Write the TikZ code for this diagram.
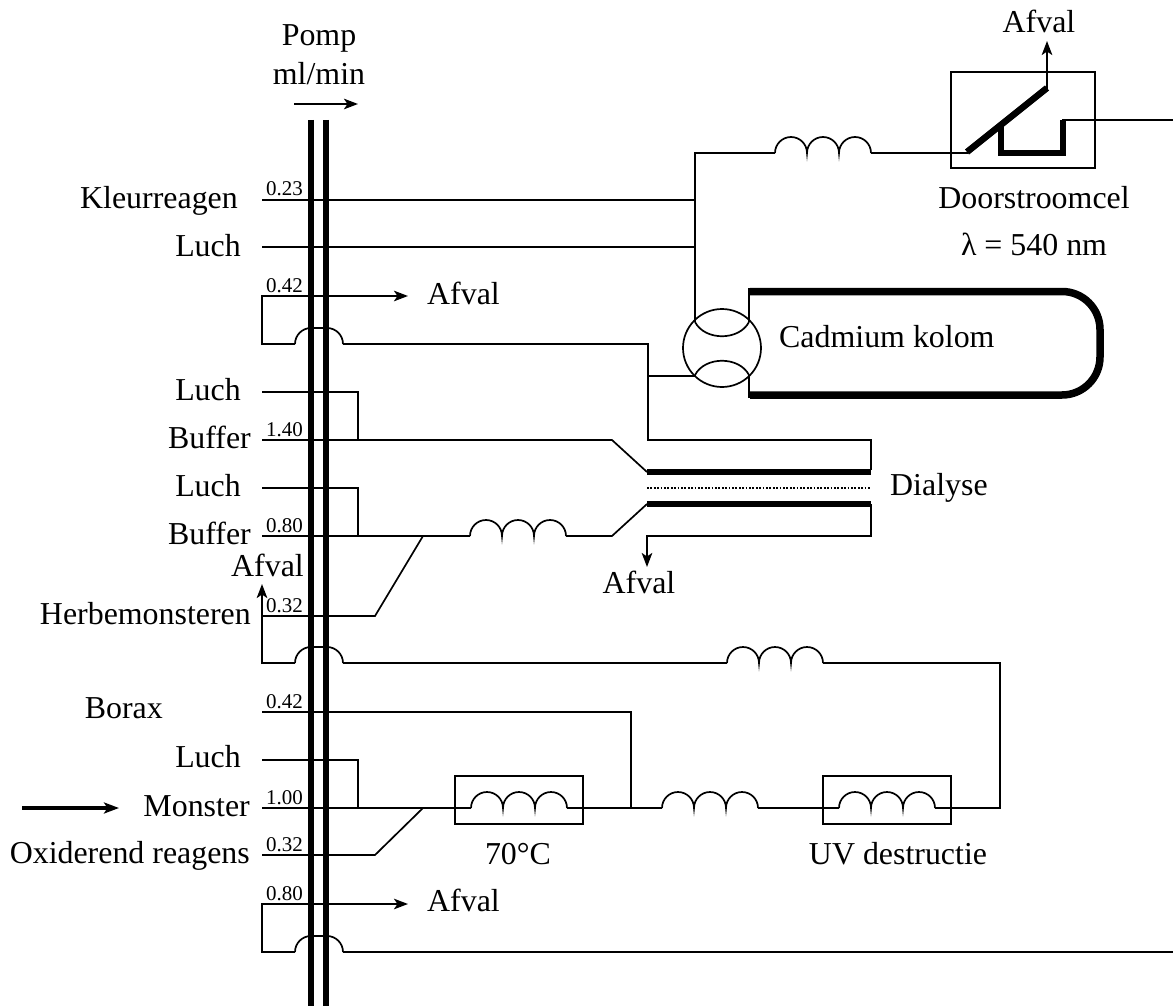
\documentclass[tikz,border=0pt]{standalone}
\usepackage{fontspec}
\setmainfont{Liberation Serif}
\usetikzlibrary{arrows.meta}
\tikzset{
  thinline/.style={line width=1.7pt,line join=miter},
  heavy/.style={line width=6.5pt},
  tube/.style={line width=6pt},
  flow/.style={line width=2.2pt,-{Stealth[length=14pt,width=10.5pt,inset=3.5pt]}},
  bigflow/.style={line width=3.2pt,-{Stealth[length=15pt,width=11pt,inset=3.5pt]}},
  lab/.style={font=\fontsize{31.9pt}{34pt}\selectfont,inner sep=0pt,anchor=base},
  rate/.style={font=\fontsize{21pt}{24pt}\selectfont,inner sep=0pt,anchor=base west},
  box/.style={line width=1.7pt}
}
\newcommand{\coil}[2]{% left x, y : three bumps
  \draw[thinline] (#1,#2) arc[start angle=180,end angle=360,radius=16]
    arc[start angle=180,end angle=360,radius=16]
    arc[start angle=180,end angle=360,radius=16];}
\newcommand{\hop}[1]{% bump over the pump tubes at y
  \draw[thinline] (295,#1) arc[start angle=180,end angle=270,radius=16]
   -- ++(16,0) arc[start angle=270,end angle=360,radius=16];}
\begin{document}
\begin{tikzpicture}[x=1pt,y=-1pt]
\useasboundingbox (0,0) rectangle (1173,1006);
% pump tubes
\draw[tube] (311,120) -- (311,1006);
\draw[tube] (326,120) -- (326,1006);
\draw[flow] (294,104) -- (358,104);
% top connections
\draw[thinline] (262,200) -- (695,200);
\draw[thinline] (262,247) -- (695,247);
\draw[thinline] (695,322) -- (695,153) -- (775,153);
\coil{775}{153}
\draw[thinline] (871,153) -- (968,153);
% waste loop 0.42
\draw[flow] (262,296) -- (408,296);
\draw[thinline] (262,295) -- (262,344) -- (295,344);
\hop{344}
\draw[thinline] (343,344) -- (648,344) -- (648,440) -- (871,440) -- (871,470);
\draw[thinline] (648,376) -- (696,376);
% valve
\draw[thinline] (722,348) circle[radius=39];
\draw[thinline] (695,322) .. controls (705,341) and (739,341) .. (749,322);
\draw[thinline] (695,375) .. controls (705,356) and (739,356) .. (749,375);
\draw[thinline] (749,322) -- (749,288);
\draw[thinline] (749,375) -- (749,398);
\draw[line width=7.5pt] (750,291.5) -- (1062,291.5) arc[start angle=270,end angle=360,radius=38]
  -- (1100,357) arc[start angle=0,end angle=90,radius=38] -- (750,395);
% dialysis
\draw[heavy] (647,472) -- (871,472);
\draw[heavy] (647,504) -- (871,504);
\draw[line width=1.6pt,dash pattern=on 1.7pt off 1.7pt] (647,488) -- (871,488);
% buffer lines
\draw[thinline] (262,392) -- (358,392) -- (358,440);
\draw[thinline] (262,440) -- (612,440) -- (647,472);
\draw[thinline] (262,488) -- (358,488) -- (358,536);
\draw[thinline] (262,536) -- (470,536);
\coil{470}{536}
\draw[thinline] (566,536) -- (612,536) -- (647,504);
\draw[thinline] (262,616) -- (375,616) -- (423,536);
\draw[thinline] (871,504) -- (871,536) -- (647,536);
\draw[flow] (647,535) -- (647,567);
% second loop
\draw[flow] (262,664) -- (262,584);
\draw[thinline] (262,663) -- (295,663);
\hop{663}
\draw[thinline] (343,663) -- (727,663);
\coil{727}{663}
\draw[thinline] (823,663) -- (1000,663) -- (1000,808) -- (951,808);
% lower lines
\draw[thinline] (262,712) -- (631,712) -- (631,808);
\draw[thinline] (262,760) -- (358,760) -- (358,808);
\draw[thinline] (262,808) -- (471,808);
\coil{471}{808}
\draw[thinline] (567,808) -- (662,808);
\coil{662}{808}
\draw[thinline] (758,808) -- (839,808);
\coil{839}{808}
\draw[thinline] (935,808) -- (951,808);
\draw[box] (455,776) rectangle (583,824);
\draw[box] (823,776) rectangle (951,824);
\draw[thinline] (262,855) -- (375,855) -- (423,808);
\draw[bigflow] (22,808) -- (119,808);
% bottom loop
\draw[flow] (262,904) -- (408,904);
\draw[thinline] (262,903) -- (262,952) -- (295,952);
\hop{952}
\draw[thinline] (343,952) -- (1173,952);
% flow cell
\draw[box] (951,72) rectangle (1095,168);
\draw[heavy] (967,152) -- (1047,88);
\draw[heavy] (1001,127) -- (1001,153) -- (1063,153) -- (1063,120);
\draw[thinline] (1062,120) -- (1173,120);
\draw[flow] (1047,89) -- (1047,41);
% labels
\node[lab] (pomp) at (319,46) {Pomp};
\node[lab] (mlmin) at (319,85) {ml/min};
\node[lab] (af1) at (1039,33) {Afval};
\node[lab] (cel) at (1034,208) {Doorstroomcel};
\node[lab] (lam) at (1034,255) {λ = 540 nm};
\node[lab,anchor=base east] (kl) at (238,208) {Kleurreagen};
\node[lab,anchor=base east] (l1) at (241,256) {Luch};
\node[lab,anchor=base west] (af2) at (427,304) {Afval};
\node[lab,anchor=base west] (cd) at (779,347) {Cadmium kolom};
\node[lab,anchor=base east] (l2) at (241,400) {Luch};
\node[lab,anchor=base east] (b1) at (251,448) {Buffer};
\node[lab,anchor=base east] (l3) at (241,496) {Luch};
\node[lab,anchor=base west] (dia) at (890,495) {Dialyse};
\node[lab,anchor=base east] (b2) at (251,544) {Buffer};
\node[lab,anchor=base east] (af3) at (304,576) {Afval};
\node[lab] (af4) at (639,593) {Afval};
\node[lab,anchor=base east] (hb) at (251,624) {Herbemonsteren};
\node[lab,anchor=base east] (bo) at (163,718) {Borax};
\node[lab,anchor=base east] (l4) at (241,767) {Luch};
\node[lab,anchor=base east] (mo) at (250,816) {Monster};
\node[lab,anchor=base east] (ox) at (250,863) {Oxiderend reagens};
\node[lab] (t70) at (518,864) {70°C};
\node[lab] (uv) at (898,864) {UV destructie};
\node[lab,anchor=base west] (af5) at (427,911) {Afval};
% rates
\node[rate] (r1) at (266,196) {0.23};
\node[rate] (r2) at (266,292) {0.42};
\node[rate] (r3) at (266,436) {1.40};
\node[rate] (r4) at (266,532) {0.80};
\node[rate] (r5) at (266,612) {0.32};
\node[rate] (r6) at (266,708) {0.42};
\node[rate] (r7) at (266,804) {1.00};
\node[rate] (r8) at (266,851) {0.32};
\node[rate] (r9) at (266,900) {0.80};
\end{tikzpicture}
\end{document}
